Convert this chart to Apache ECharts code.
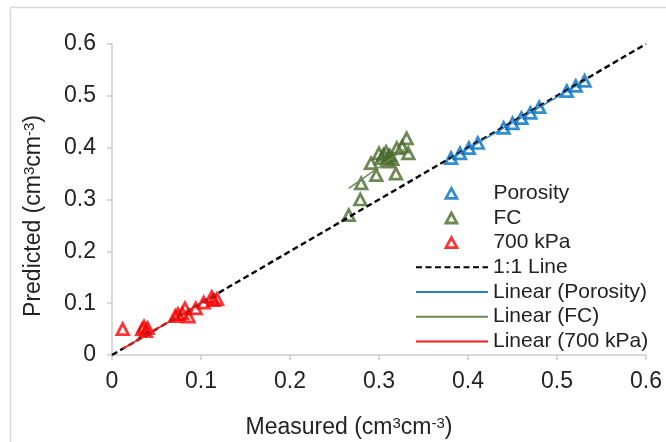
<!DOCTYPE html>
<html>
<head>
<meta charset="utf-8">
<script src="https://cdn.jsdelivr.net/npm/echarts@6/dist/echarts.min.js"></script>
<style>
  html, body { margin: 0; padding: 0; background: #fff; }
  #chart { width: 666px; height: 442px; }
</style>
</head>
<body>
<div id="chart"></div>
<script>
// Measured vs predicted volumetric water content (cm3 cm-3)
const porosityMeasured  = [0.381, 0.391, 0.401, 0.411, 0.440, 0.450, 0.460, 0.470, 0.480, 0.511, 0.521, 0.531];
const porosityPredicted = [0.380, 0.389, 0.399, 0.409, 0.438, 0.447, 0.457, 0.467, 0.478, 0.509, 0.519, 0.529];

const fcMeasured  = [0.266, 0.279, 0.280, 0.291, 0.297, 0.300, 0.303, 0.305, 0.308, 0.310, 0.310, 0.312, 0.315, 0.319, 0.320, 0.326, 0.331, 0.333];
const fcPredicted = [0.270, 0.300, 0.331, 0.370, 0.347, 0.389, 0.380, 0.386, 0.392, 0.373, 0.381, 0.385, 0.378, 0.350, 0.399, 0.402, 0.418, 0.389];

const kpa700Measured  = [0.012, 0.034, 0.036, 0.038, 0.040, 0.071, 0.074, 0.079, 0.082, 0.086, 0.094, 0.103, 0.112, 0.114, 0.118];
const kpa700Predicted = [0.050, 0.050, 0.055, 0.046, 0.052, 0.075, 0.079, 0.080, 0.090, 0.074, 0.090, 0.101, 0.112, 0.106, 0.108];

const oneToOne = [0, 0.6];
const axisTicks = [0, 0.1, 0.2, 0.3, 0.4, 0.5, 0.6];

const seriesNames = ['Porosity', 'FC', '700 kPa'];
const trendNames = ['Linear (Porosity)', 'Linear (FC)', 'Linear (700 kPa)'];
const colors = ['#0070C0', '#4A6A2C', '#FF0000'];
const trendColors = ['#2A7FD0', '#6A8A52', '#FF1A1A'];

const FONT = '"Liberation Sans", Arial, Helvetica, sans-serif';
const TEXT = '#222222';
const AXIS = '#cccccc';

const pairs = (xs, ys) => xs.map((x, i) => [x, ys[i]]);

// Least-squares line through the origin, spanning the x-range of the data
function originFit(xs, ys) {
  let sxy = 0, sxx = 0;
  xs.forEach((x, i) => { sxy += x * ys[i]; sxx += x * x; });
  const b = sxy / sxx;
  const lo = Math.min(...xs), hi = Math.max(...xs);
  return [[lo, b * lo], [hi, b * hi]];
}

const groups = [
  [porosityMeasured, porosityPredicted],
  [fcMeasured, fcPredicted],
  [kpa700Measured, kpa700Predicted]
];

const scatterSeries = groups.map((g, i) => ({
  name: seriesNames[i],
  type: 'scatter',
  data: pairs(g[0], g[1]),
  symbol: 'triangle',
  symbolSize: [11.5, 11],
  itemStyle: { color: 'rgba(255,255,255,0)', borderColor: colors[i], borderWidth: 2.8 },
  z: 2
}));

const lineSeries = [{
  name: '1:1 Line',
  type: 'line',
  data: oneToOne.map(v => [v, v]),
  symbol: 'none',
  lineStyle: { color: '#000', width: 2.4, type: [6, 3.5] },
  z: 3
}];

const trendSeries = groups.map((g, i) => ({
  name: trendNames[i],
  type: 'line',
  data: originFit(g[0], g[1]),
  symbol: 'none',
  lineStyle: { color: trendColors[i], width: 1.5 },
  z: 4
}));

const axisCommon = {
  type: 'value',
  min: axisTicks[0],
  max: axisTicks[axisTicks.length - 1],
  interval: axisTicks[1] - axisTicks[0],
  splitLine: { show: false },
  axisLine: { show: true, lineStyle: { color: AXIS, width: 1.5 } },
  axisTick: { show: true, inside: false, length: 5, lineStyle: { color: AXIS, width: 1.5 } },
  axisLabel: { fontSize: 23, color: TEXT, fontFamily: FONT }
};

const legendText = { fontSize: 21, lineHeight: 21, color: TEXT, fontFamily: FONT };
const supStyle = { fontSize: 15, verticalAlign: 'top', fontFamily: FONT, color: TEXT, lineHeight: 23 };

const chart = echarts.init(document.getElementById('chart'), null, { renderer: 'canvas' });
chart.setOption({
  animation: false,
  backgroundColor: '#ffffff',
  grid: { left: 112, right: 20, top: 44, bottom: 87, containLabel: false },
  xAxis: Object.assign({}, axisCommon, {
    axisLabel: Object.assign({}, axisCommon.axisLabel, { margin: 15 })
  }),
  yAxis: Object.assign({}, axisCommon, {
    axisLabel: Object.assign({}, axisCommon.axisLabel, { margin: 16 })
  }),
  legend: [
    {
      // marker entries: small triangle, label pushed to the common text column
      data: seriesNames,
      orient: 'vertical',
      left: 444.5, top: 182.8,
      padding: 0,
      itemWidth: 11, itemHeight: 10, itemGap: 3.7,
      symbolKeepAspect: true,
      selectedMode: false,
      itemStyle: { borderWidth: 2.8 },
      textStyle: Object.assign({}, legendText, { padding: [0, 0, 0, 31.5] })
    },
    {
      // line entries: line sample only
      data: ['1:1 Line'].concat(trendNames),
      orient: 'vertical',
      left: 415, top: 256.8,
      padding: 0,
      itemWidth: 72, itemHeight: 14, itemGap: 3.7,
      itemStyle: { opacity: 0 },
      selectedMode: false,
      textStyle: legendText
    }
  ],
  graphic: [
    {
      type: 'rect', z: -10, silent: true,
      shape: { x: 10.5, y: 7.5, width: 720, height: 520 },
      style: { fill: 'none', stroke: '#d9d9d9', lineWidth: 1.5 }
    },
    {
      type: 'text', x: 349, y: 428, silent: true,
      style: {
        text: 'Measured (cm{sup|3}cm{sup|-3})',
        fontSize: 23, lineHeight: 23, fontFamily: FONT, fill: TEXT,
        align: 'center', verticalAlign: 'middle',
        rich: { sup: supStyle }
      }
    },
    {
      type: 'text', x: 34, y: 216, rotation: Math.PI / 2, silent: true,
      style: {
        text: 'Predicted (cm{sup|3}cm{sup|-3})',
        fontSize: 23, lineHeight: 23, fontFamily: FONT, fill: TEXT,
        align: 'center', verticalAlign: 'middle',
        rich: { sup: supStyle }
      }
    }
  ],
  series: scatterSeries.concat(lineSeries, trendSeries)
});
</script>
</body>
</html>
